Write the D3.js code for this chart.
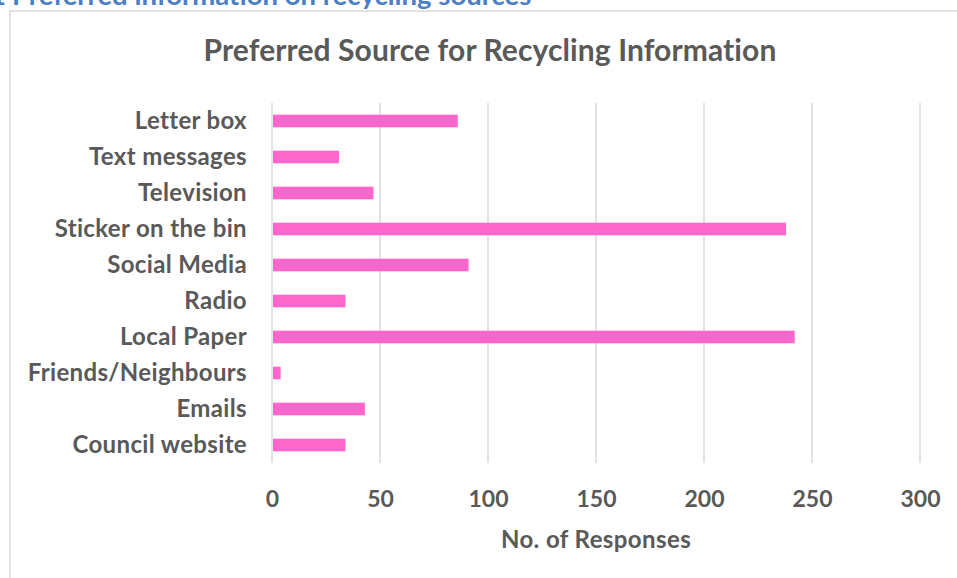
<!DOCTYPE html>
<html>
<head>
<meta charset="utf-8">
<script src="https://cdn.jsdelivr.net/npm/d3@7/dist/d3.min.js"></script>
<style>
  html, body { margin: 0; padding: 0; background: #ffffff; }
  svg { display: block; }
  text { font-family: Lato, "Open Sans", sans-serif; font-weight: bold; }
</style>
</head>
<body>
<svg id="chart" width="957" height="578"></svg>
<script>
// Survey responses: preferred source for recycling information
const categories = [
  "Letter box", "Text messages", "Television", "Sticker on the bin", "Social Media",
  "Radio", "Local Paper", "Friends/Neighbours", "Emails", "Council website"
];
const responses = [86, 31, 47, 238, 91, 34, 242, 4, 43, 34];
const xTicks = [0, 50, 100, 150, 200, 250, 300];

const chartTitle = "Preferred Source for Recycling Information";
const axisTitle = "No. of Responses";
const sectionNumber = "4.1";
const sectionHeading = "Preferred information on recycling sources";

const W = 957, H = 578;
const plot = { left: 272, right: 920, top: 103, bottom: 463 };
const ink = "#595959";
const gridColor = "#D9D9D9";
const barColor = "#FF66CC";

const svg = d3.select("#chart");

// Section heading of the document, running off the top edge
svg.append("text")
  .attr("x", 6).attr("y", 5)
  .attr("text-anchor", "end")
  .attr("font-size", 27.5)
  .attr("fill", "#4A7EC7")
  .text(sectionNumber);
svg.append("text")
  .attr("x", 12).attr("y", 5)
  .attr("font-size", 27.5)
  .attr("fill", "#4A7EC7")
  .text(sectionHeading);

// Chart frame
svg.append("rect")
  .attr("x", 10).attr("y", 11)
  .attr("width", W + 20).attr("height", H + 20)
  .attr("fill", "#ffffff")
  .attr("stroke", gridColor)
  .attr("stroke-width", 1.5);

const x = d3.scaleLinear()
  .domain([0, 300])
  .range([plot.left, plot.right]);

const y = d3.scaleBand()
  .domain(categories)
  .range([plot.top, plot.bottom])
  .paddingInner(0.65)
  .paddingOuter(0.325);

// Vertical gridlines
svg.append("g")
  .selectAll("line")
  .data(xTicks)
  .join("line")
  .attr("x1", d => x(d)).attr("x2", d => x(d))
  .attr("y1", plot.top).attr("y2", plot.bottom)
  .attr("stroke", gridColor)
  .attr("stroke-width", 1.5);

// Bars
svg.append("g")
  .selectAll("rect")
  .data(categories)
  .join("rect")
  .attr("x", x(0) + 1)
  .attr("y", d => y(d))
  .attr("width", (d, i) => x(responses[i]) - x(0) - 1)
  .attr("height", y.bandwidth())
  .attr("fill", barColor);

// Category axis
const yAxis = svg.append("g")
  .attr("transform", `translate(${plot.left - 25},0)`)
  .call(d3.axisLeft(y).tickSize(0).tickPadding(0));
yAxis.select(".domain").remove();
yAxis.selectAll("text")
  .attr("font-size", 24)
  .attr("letter-spacing", 0.35)
  .attr("fill", ink)
  .attr("font-family", null);

// Value axis labels
const xAxis = svg.append("g")
  .attr("transform", `translate(0,${plot.bottom})`)
  .call(d3.axisBottom(x).tickValues(xTicks).tickSize(0).tickPadding(0));
xAxis.select(".domain").remove();
xAxis.selectAll("text")
  .attr("y", 44)
  .attr("dy", null)
  .attr("font-size", 23)
  .attr("fill", ink)
  .attr("font-family", null);

// Titles
svg.append("text")
  .attr("x", 490).attr("y", 61)
  .attr("text-anchor", "middle")
  .attr("font-size", 30)
  .attr("letter-spacing", 0.1)
  .attr("fill", ink)
  .text(chartTitle);

svg.append("text")
  .attr("x", 596).attr("y", 548)
  .attr("text-anchor", "middle")
  .attr("font-size", 24)
  .attr("letter-spacing", 0.4)
  .attr("fill", ink)
  .text(axisTitle);
</script>
</body>
</html>
